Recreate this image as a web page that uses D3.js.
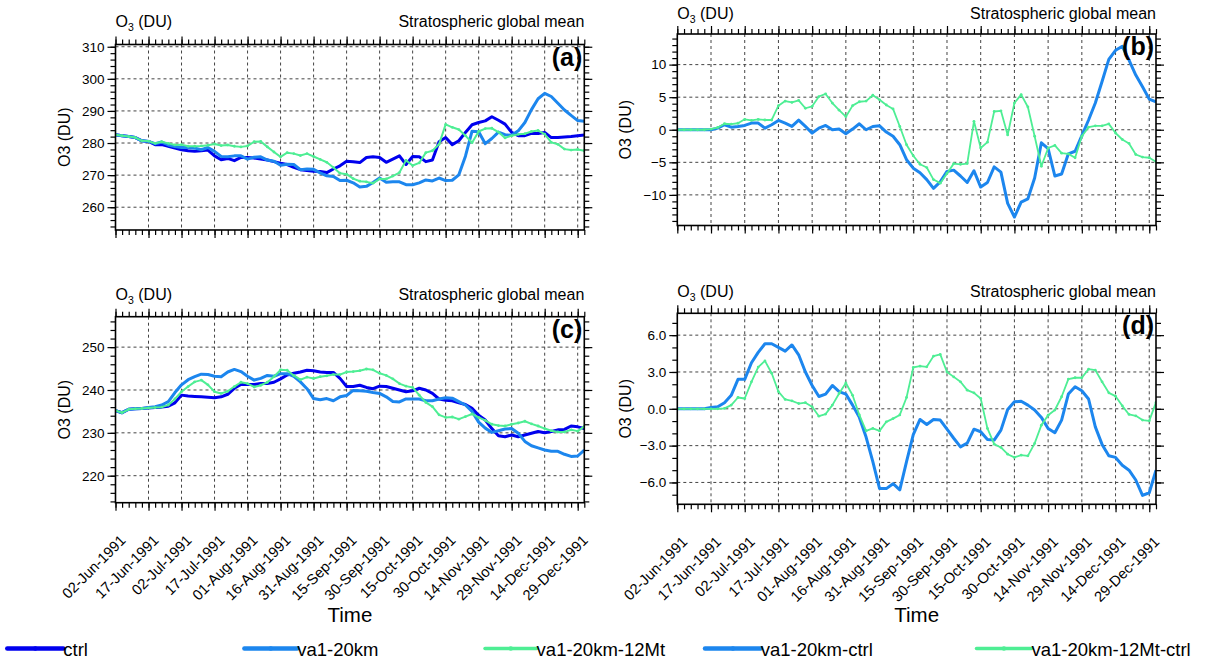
<!DOCTYPE html>
<html><head><meta charset="utf-8">
<script src="https://cdn.jsdelivr.net/npm/d3@7"></script>
<style>
body{margin:0;background:#fff;}
svg{display:block;font-family:"Liberation Sans",Arial,Helvetica,sans-serif;}
</style>
</head><body>
<svg id="chart" width="1212" height="662"></svg>
<script>
// ---------------- data ----------------
const startDate = new Date(Date.UTC(1991, 5, 2));
const endDate = new Date(Date.UTC(1992, 0, 1));
const stepDays = 3;
const tickLabels = ["02-Jun-1991","17-Jun-1991","02-Jul-1991","17-Jul-1991","01-Aug-1991","16-Aug-1991",
  "31-Aug-1991","15-Sep-1991","30-Sep-1991","15-Oct-1991","30-Oct-1991","14-Nov-1991","29-Nov-1991",
  "14-Dec-1991","29-Dec-1991"];
const seriesNames = ["ctrl","va1-20km","va1-20km-12Mt","va1-20km-ctrl","va1-20km-12Mt-ctrl"];

// panel (a)
const ctrlA = [282.6,282.3,282.0,281.7,280.7,280.5,279.5,279.5,279.0,278.4,
  277.9,277.6,277.4,277.6,277.8,276.0,274.8,275.2,274.5,275.5,
  275.5,275.3,275.0,274.7,274.2,273.7,273.3,272.4,271.7,271.4,
  271.2,271.1,270.8,271.9,272.9,274.3,274.2,273.9,275.5,275.7,
  275.5,274.0,275.0,276.0,273.3,275.8,275.7,274.2,274.7,280.4,
  281.7,279.5,280.7,283.3,285.7,286.4,286.9,288.2,287.1,285.9,
  283.3,282.3,282.3,283.0,283.0,283.3,281.7,281.7,281.9,282.0,
  282.3,282.5];
const va1A = [282.6,282.3,282.0,281.7,280.7,280.5,279.8,280.3,279.4,278.9,
  278.6,278.6,278.4,277.9,278.6,277.4,275.8,275.7,276.0,276.0,
  275.0,275.6,275.7,274.7,274.3,273.1,273.4,273.3,271.7,271.9,
  271.8,270.7,269.8,269.6,268.3,268.4,267.6,266.3,266.5,267.7,
  269.1,267.8,267.9,267.9,267.0,267.0,267.6,268.5,268.2,269.1,
  268.3,268.4,270.1,275.9,283.7,283.5,279.8,281.4,283.4,282.6,
  282.4,283.8,286.4,290.4,293.8,295.5,294.5,292.4,290.3,288.6,
  287.0,286.8];
const va1MtA = [282.6,282.3,282.0,281.7,280.7,280.6,279.9,280.4,279.9,279.4,
  279.5,279.0,279.0,279.1,279.3,279.7,279.2,279.4,279.0,278.8,
  279.1,280.4,280.5,278.8,277.2,275.7,277.0,276.7,276.1,276.7,
  275.8,274.9,274.0,272.4,270.6,270.3,268.9,268.1,267.9,267.5,
  268.8,268.8,269.7,270.8,274.6,273.0,273.8,277.0,277.6,279.6,
  285.8,284.9,284.2,282.3,280.1,283.6,284.5,284.6,283.4,281.6,
  282.3,282.7,282.9,283.6,283.9,282.8,280.2,279.6,278.1,277.8,
  278.0,277.6];
// panel (b)
const va1DiffB = [0,0,0,0,0,0,0.25,0.77,0.4,0.5,
  0.66,1.02,1.02,0.25,0.77,1.43,1.02,0.51,1.48,0.51,
  -0.51,0.25,0.66,0,0.1,-0.6,0.1,0.92,0,0.5,
  0.6,-0.36,-1.0,-2.3,-4.6,-5.9,-6.6,-7.65,-9.0,-8.0,
  -6.4,-6.2,-7.1,-8.1,-6.3,-8.8,-8.1,-5.7,-6.5,-11.3,
  -13.4,-11.1,-10.6,-7.4,-2.0,-2.9,-7.1,-6.8,-3.7,-3.3,
  -0.9,1.5,4.1,7.4,10.8,12.2,12.8,10.7,8.4,6.6,
  4.7,4.3];
const va1MtDiffB = [0,0,0,0,0,0.1,0.35,0.92,0.87,1.0,
  1.6,1.43,1.6,1.5,1.5,3.7,4.4,4.2,4.5,3.3,
  3.6,5.1,5.5,4.1,3.0,2.0,3.7,4.3,4.4,5.3,
  4.6,3.8,3.2,0.5,-2.3,-4.0,-5.3,-5.8,-7.65,-8.2,
  -6.7,-5.2,-5.3,-5.2,1.3,-2.8,-1.9,2.8,2.9,-0.8,
  4.1,5.4,3.5,-1.0,-5.6,-2.8,-2.4,-3.6,-3.7,-4.3,
  -1.0,0.4,0.6,0.6,0.9,-0.5,-1.5,-2.1,-3.8,-4.2,
  -4.3,-4.9];
// panel (c)
const ctrlC = [235.2,234.7,235.5,235.6,235.7,235.8,235.9,236.0,236.2,237.0,
  238.8,238.6,238.5,238.4,238.3,238.2,238.4,239.0,240.4,241.3,
  241.3,241.3,241.5,241.5,241.8,242.6,243.5,243.9,244.2,244.6,
  244.5,244.2,244.1,244.1,242.7,240.8,240.8,241.1,240.6,240.3,
  240.9,240.8,240.4,240.0,239.6,239.8,240.4,240.0,239.2,237.9,
  237.6,237.5,237.0,236.6,235.7,234.1,233.0,231.0,229.3,229.1,
  229.5,229.1,229.5,229.9,230.3,230.0,230.3,230.7,230.8,231.6,
  231.4,231.0];
const va1C = [235.2,234.7,235.5,235.6,235.7,235.9,236.1,236.5,237.3,239.4,
  241.2,242.4,243.1,243.7,243.6,243.2,243.1,244.2,244.8,244.3,
  243.2,242.3,242.7,243.4,243.2,243.8,243.8,243.2,241.9,240.3,
  238.0,237.7,238.0,237.5,238.4,238.7,239.9,239.8,239.7,239.4,
  239.2,238.4,237.3,237.2,237.9,237.9,237.9,237.5,237.5,237.9,
  238.2,238.1,237.3,236.5,235.0,232.5,231.1,230.1,230.5,230.9,
  231.0,229.9,228.0,227.0,226.5,226.0,225.7,225.7,225.0,224.5,
  224.6,226.0];
const va1MtC = [235.2,234.7,235.5,235.6,235.7,235.8,235.9,236.0,236.5,237.9,
  239.6,240.8,241.9,242.3,241.2,239.6,239.2,239.7,240.8,241.8,
  241.5,240.7,241.1,241.8,243.1,244.7,244.6,243.4,242.4,243.0,
  242.7,243.1,243.3,243.6,243.6,244.2,244.3,244.5,244.9,244.7,
  243.9,243.4,242.6,241.5,240.9,240.6,238.8,237.1,236.1,234.2,
  233.6,233.7,233.2,233.8,234.4,233.6,232.9,232.0,231.7,231.6,
  232.0,232.3,232.7,232.1,231.6,231.0,230.5,230.2,230.2,230.7,
  230.4,231.5];
// panel (d)
const va1DiffD = [0,0,0,0,0,0.1,0.16,0.5,1.1,2.4,
  2.4,3.75,4.6,5.3,5.3,5.0,4.7,5.2,4.4,3.0,
  1.9,1.0,1.2,1.9,1.4,1.2,0.3,-0.7,-2.3,-4.3,
  -6.5,-6.5,-6.1,-6.6,-4.3,-2.1,-0.87,-1.28,-0.87,-0.92,
  -1.66,-2.4,-3.1,-2.8,-1.66,-1.87,-2.5,-2.55,-1.74,-0.05,
  0.57,0.62,0.3,-0.1,-0.7,-1.6,-1.95,-0.92,1.2,1.8,
  1.47,0.8,-1.47,-2.9,-3.83,-3.96,-4.6,-5.0,-5.8,-7.06,
  -6.84,-5.0];
const va1MtDiffD = [0,0,0,0,0,0,0,0.03,0.3,0.92,
  0.84,2.2,3.4,3.9,2.9,1.4,0.76,0.65,0.43,0.5,
  0.16,-0.6,-0.43,0.3,1.25,2.1,1.1,-0.5,-1.8,-1.6,
  -1.8,-1.06,-0.8,-0.5,0.92,3.37,3.48,3.42,4.29,4.43,
  3.0,2.6,2.2,1.52,1.3,0.84,-1.6,-2.88,-3.15,-3.7,
  -3.96,-3.77,-3.83,-2.82,-1.33,-0.52,-0.1,0.98,2.42,2.53,
  2.53,3.23,3.15,2.2,1.3,1.03,0.24,-0.46,-0.57,-0.92,
  -0.98,0.52];

// ---------------- style ----------------
const colors = {ctrl:"#0000EE", va1:"#1C86EE", mt:"#4EEE94"};
const svg = d3.select("#chart");
const times = ctrlA.map((_, i) => d3.utcDay.offset(startDate, i * stepDays));
const majorDates = tickLabels.map((_, i) => d3.utcDay.offset(startDate, i * 15));
const minorDates = d3.range(0, 214, 3).map(d => d3.utcDay.offset(startDate, d));

const panels = [
  {id:"(a)", l:115.5, r:584.3, t:44.5, b:230, yd:[252.9,310.7], yMaj:[260,270,280,290,300,310], yMinStep:2, yMin0:254, yMin1:310, fmt:d3.format("d"), titleY:26.5, xlabels:false,
   series:[{v:ctrlA,c:colors.ctrl,w:3},{v:va1A,c:colors.va1,w:3},{v:va1MtA,c:colors.mt,w:2,m:true}]},
  {id:"(b)", l:677.3, r:1156, t:34, b:225.5, yd:[-14.7,14.7], yMaj:[-10,-5,0,5,10], yMinStep:1, yMin0:-14, yMin1:14, fmt:d3.format("d"), titleY:18.5, xlabels:false,
   series:[{v:va1DiffB,c:colors.va1,w:3},{v:va1MtDiffB,c:colors.mt,w:1.8,m:true}]},
  {id:"(c)", l:115.5, r:584.3, t:316.7, b:502.7, yd:[213.7,257.1], yMaj:[220,230,240,250], yMinStep:2, yMin0:214, yMin1:256, fmt:d3.format("d"), titleY:300, xlabels:true,
   series:[{v:ctrlC,c:colors.ctrl,w:3},{v:va1C,c:colors.va1,w:3},{v:va1MtC,c:colors.mt,w:2,m:true}]},
  {id:"(d)", l:677.3, r:1156, t:313.3, b:504.3, yd:[-7.78,7.78], yMaj:[-6,-3,0,3,6], yMinStep:1, yMin0:-7, yMin1:7, fmt:d3.format(".1f"), titleY:296.7, xlabels:true,
   series:[{v:va1DiffD,c:colors.va1,w:3},{v:va1MtDiffD,c:colors.mt,w:1.8,m:true}]}
];

const FONT = '"Liberation Sans",Arial,Helvetica,sans-serif';

function drawPanel(p) {
  const g = svg.append("g");
  const x = d3.scaleUtc().domain([startDate, endDate]).range([p.l, p.r]);
  const y = d3.scaleLinear().domain(p.yd).range([p.b, p.t]);
  const yMinor = d3.range(p.yMin0, p.yMin1 + 1e-6, p.yMinStep);

  // grid
  const grid = g.append("g").attr("stroke", "#444").attr("stroke-width", 1).attr("stroke-dasharray", "3,3");
  majorDates.forEach(d => {
    const xx = x(d);
    if (xx > p.l + 1 && xx < p.r - 1)
      grid.append("line").attr("x1", xx).attr("x2", xx).attr("y1", p.t).attr("y2", p.b);
  });
  p.yMaj.forEach(v => {
    const yy = y(v);
    if (yy > p.t + 1 && yy < p.b - 1)
      grid.append("line").attr("x1", p.l).attr("x2", p.r).attr("y1", yy).attr("y2", yy);
  });

  // series
  const clip = "clip" + p.id.replace(/[()]/g, "");
  svg.append("clipPath").attr("id", clip).append("rect")
    .attr("x", p.l).attr("y", p.t).attr("width", p.r - p.l).attr("height", p.b - p.t);
  const lines = g.append("g").attr("clip-path", `url(#${clip})`);
  p.series.forEach(s => {
    const line = d3.line().x((d, i) => x(times[i])).y(d => y(d));
    lines.append("path").attr("d", line(s.v)).attr("fill", "none")
      .attr("stroke", s.c).attr("stroke-width", s.w).attr("stroke-linejoin", "round");
    if (s.m) {
      lines.append("g").selectAll("circle").data(s.v).join("circle")
        .attr("cx", (d, i) => x(times[i])).attr("cy", d => y(d)).attr("r", 1.4).attr("fill", s.c);
    }
  });

  // axes ticks
  const axStyle = sel => {
    sel.select(".domain").remove();
    sel.selectAll(".tick line").attr("stroke", "#000").attr("stroke-width", 1.2);
    sel.selectAll("text").attr("font-family", FONT);
  };
  const mk = (axis, tx, ty) => g.append("g").attr("transform", `translate(${tx},${ty})`).call(axis).call(axStyle);
  // bottom
  mk(d3.axisBottom(x).tickValues(majorDates).tickSize(8).tickFormat(""), 0, p.b);
  mk(d3.axisBottom(x).tickValues(minorDates).tickSize(5).tickFormat(""), 0, p.b);
  // top
  mk(d3.axisTop(x).tickValues(majorDates).tickSize(8).tickFormat(""), 0, p.t);
  mk(d3.axisTop(x).tickValues(minorDates).tickSize(5).tickFormat(""), 0, p.t);
  // left
  const la = mk(d3.axisLeft(y).tickValues(p.yMaj).tickSize(8).tickPadding(3).tickFormat(p.fmt), p.l, 0);
  la.selectAll("text").attr("font-size", 13.5).attr("fill", "#000");
  mk(d3.axisLeft(y).tickValues(yMinor).tickSize(5).tickFormat(""), p.l, 0);
  // right
  mk(d3.axisRight(y).tickValues(p.yMaj).tickSize(8).tickFormat(""), p.r, 0);
  mk(d3.axisRight(y).tickValues(yMinor).tickSize(5).tickFormat(""), p.r, 0);

  // frame
  g.append("rect").attr("x", p.l).attr("y", p.t).attr("width", p.r - p.l).attr("height", p.b - p.t)
    .attr("fill", "none").attr("stroke", "#000").attr("stroke-width", 1.6);

  // titles
  const t = g.append("text").attr("x", p.l).attr("y", p.titleY).attr("font-size", 16).attr("fill", "#000");
  t.append("tspan").text("O");
  t.append("tspan").attr("font-size", 10.5).attr("dy", 4).text("3");
  t.append("tspan").attr("dy", -4).text(" (DU)");
  g.append("text").attr("x", p.r).attr("y", p.titleY).attr("text-anchor", "end")
    .attr("font-size", 16).attr("fill", "#000").text("Stratospheric global mean");
  g.append("text").attr("x", p.r - 2).attr("y", p.t + 21).attr("text-anchor", "end")
    .attr("font-size", 25).attr("font-weight", "bold").attr("fill", "#000").text(p.id);

  // y title
  g.append("text").attr("transform", `translate(${p.l - 46},${(p.t + p.b) / 2}) rotate(-90)`)
    .attr("text-anchor", "middle").attr("font-size", 16).attr("fill", "#000").text("O3 (DU)");

  // x labels
  if (p.xlabels) {
    tickLabels.forEach((lab, i) => {
      const xx = x(majorDates[i]) + 11;
      const yy = p.b + 38.5;
      g.append("text").attr("transform", `translate(${xx},${yy}) rotate(-45)`)
        .attr("text-anchor", "end").attr("font-size", 14.7).attr("fill", "#000").text(lab);
    });
    g.append("text").attr("x", (p.l + p.r) / 2).attr("y", 622).attr("text-anchor", "middle")
      .attr("font-size", 20.5).attr("fill", "#000").text("Time");
  }
}
panels.forEach(drawPanel);

// legend
const legendItems = [
  {name: seriesNames[0], c: colors.ctrl, x0: 7.3, x1: 63.3, w: 4.5},
  {name: seriesNames[1], c: colors.va1, x0: 244.4, x1: 297.2, w: 4.5},
  {name: seriesNames[2], c: colors.mt, x0: 485, x1: 536.6, w: 3.5},
  {name: seriesNames[3], c: colors.va1, x0: 705, x1: 760.8, w: 4.5},
  {name: seriesNames[4], c: colors.mt, x0: 976.5, x1: 1031.4, w: 3.5}
];
const lg = svg.append("g");
legendItems.forEach(it => {
  lg.append("line").attr("x1", it.x0).attr("x2", it.x1).attr("y1", 648.5).attr("y2", 648.5)
    .attr("stroke", it.c).attr("stroke-width", it.w).attr("stroke-linecap", "round");
  lg.append("circle").attr("cx", (it.x0 + it.x1) / 2).attr("cy", 648.5).attr("r", 2.2).attr("fill", it.c);
  lg.append("text").attr("x", it.x1).attr("y", 655.5).attr("font-size", 18.5).attr("fill", "#000").text(it.name);
});
</script>
</body></html>
